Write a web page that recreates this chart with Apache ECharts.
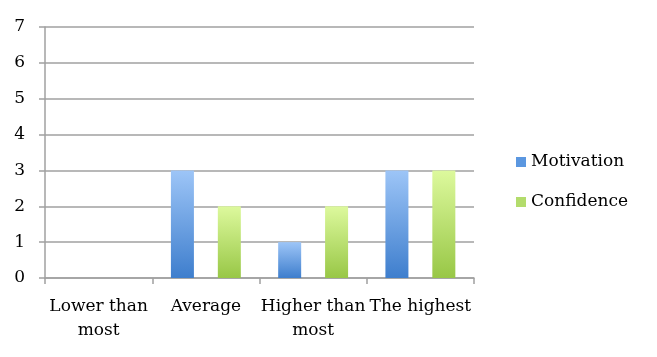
<!DOCTYPE html>
<html><head><meta charset="utf-8">
<script src="https://cdn.jsdelivr.net/npm/echarts@6/dist/echarts.min.js"></script>
<style>html,body{margin:0;padding:0;background:#fff}#c{width:657px;height:357px}</style>
</head><body><div id="c"></div>
<script>
const categories = ['Lower than\nmost', 'Average', 'Higher than\nmost', 'The highest'];
const motivation = [0, 3, 1, 3];
const confidence = [0, 2, 2, 3];
const yTicks = [0, 1, 2, 3, 4, 5, 6, 7];

const font = 'DejaVu Serif';
const chart = echarts.init(document.getElementById('c'));
function grad(top, bottom) {
  return new echarts.graphic.LinearGradient(0, 0, 0, 1, [{offset: 0, color: top}, {offset: 1, color: bottom}]);
}
chart.setOption({
  animation: false,
  grid: {left: 45, right: 183, top: 27, bottom: 79},
  legend: {
    orient: 'vertical', left: 511, top: 148, itemWidth: 10, itemHeight: 10, itemGap: 22,
    textStyle: {fontFamily: font, fontSize: 17, lineHeight: 18, color: '#000'},
    data: [{name: 'Motivation', icon: 'rect', itemStyle: {color: '#5b97e0'}}, {name: 'Confidence', icon: 'rect', itemStyle: {color: '#b3dc6c'}}]
  },
  xAxis: {
    type: 'category', data: categories,
    axisLine: {lineStyle: {color: '#a0a0a0', width: 1.5}},
    axisTick: {show: true, length: 6, lineStyle: {color: '#a0a0a0', width: 1.5}},
    axisLabel: {fontFamily: font, fontSize: 17, color: '#000', margin: 17, lineHeight: 24, interval: 0}
  },
  yAxis: {
    type: 'value', min: 0, max: 7, interval: 1,
    axisLine: {show: true, lineStyle: {color: '#a0a0a0', width: 1.5}},
    axisTick: {show: true, length: 6, lineStyle: {color: '#a0a0a0', width: 1.5}},
    splitLine: {lineStyle: {color: '#a0a0a0', width: 1.5}},
    axisLabel: {fontFamily: font, fontSize: 17, color: '#000', margin: 20,
      formatter: v => yTicks.includes(v) ? String(v) : ''}
  },
  series: [
    {name: 'Motivation', type: 'bar', data: motivation, barWidth: 23, barGap: '104%',
     itemStyle: {color: grad('#9dc5f7', '#3e7ecd')}},
    {name: 'Confidence', type: 'bar', data: confidence, barWidth: 23,
     itemStyle: {color: grad('#ddf99d', '#98c746')}}
  ]
});
</script></body></html>
